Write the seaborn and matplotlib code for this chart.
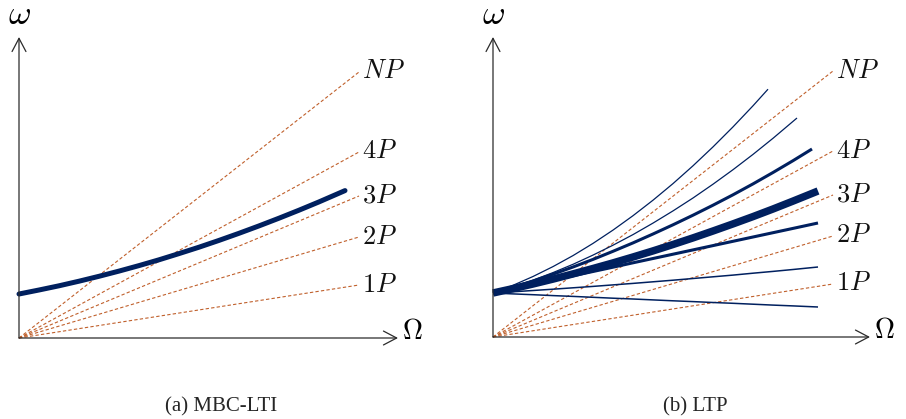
import matplotlib
matplotlib.use("Agg")
import matplotlib.pyplot as plt
from matplotlib.patches import FancyArrowPatch
import pandas as pd
import seaborn as sns

sns.set_theme(style="white")
plt.rcParams["mathtext.fontset"] = "cm"
plt.rcParams["font.family"] = ["Liberation Serif", "DejaVu Serif"]

NAVY = "#00205f"
RUST = "#c0602c"
AXIS = "#2b2b2b"

# harmonic rays k*P leaving the origin
ray_labels = ["$1P$", "$2P$", "$3P$", "$4P$", "$NP$"]
ray_end_x = 340
ray_end_y = [53, 101, 142, 186, 266]

# (a) MBC-LTI: a single frequency curve
lti_x = [0, 20, 40, 60, 80, 100, 120, 140, 160, 180, 200, 220, 240, 260,
         280, 300, 326]
lti_y = [44, 48.0, 52.2, 56.8, 61.7, 66.9, 72.4, 78.2, 84.4, 90.8, 97.6,
         104.7, 112.1, 119.8, 127.8, 136.1, 147.4]

# (b) LTP: fan of harmonic branches, top to bottom
ltp_names = ["h1", "h2", "h3", "h4", "h5", "h6", "h7"]
grid = [0, 20, 40, 60, 80, 100, 120, 140, 160, 180, 200, 220, 240, 260, 280, 300]
ltp_x = {
    "h1": grid[:14] + [275],
    "h2": grid[:15] + [304],
    "h3": grid + [319],
    "h4": grid + [325],
    "h5": grid + [325],
    "h6": grid + [325],
    "h7": grid + [325],
}
ltp_y = {
    "h1": [44, 51.7, 60.5, 70.4, 81.4, 93.6, 106.9, 121.3, 136.8, 153.4,
           171.2, 190.1, 210.1, 231.2, 247.8],
    "h2": [44, 50.0, 56.8, 64.4, 72.7, 81.9, 91.8, 102.4, 113.9, 126.1,
           139.0, 152.8, 167.3, 182.6, 198.7, 219.0],
    "h3": [44, 49.8, 56.0, 62.8, 70.0, 77.6, 85.7, 94.1, 103.0, 112.2,
           121.8, 131.8, 142.2, 153.1, 164.5, 176.3, 188.0],
    "h4": [44, 48.4, 53.0, 57.9, 63.1, 68.5, 74.1, 80.0, 86.1, 92.5,
           99.1, 106.0, 113.1, 120.4, 128.0, 135.9, 146.0],
    "h5": [44, 48.3, 52.6, 56.9, 61.2, 65.5, 69.8, 74.2, 78.5, 82.8,
           87.1, 91.4, 95.7, 100.0, 104.3, 108.6, 114.0],
    "h6": [44, 45.2, 46.5, 47.8, 49.2, 50.6, 52.1, 53.6, 55.2, 56.8,
           58.5, 60.2, 61.9, 63.8, 65.6, 67.5, 70.0],
    "h7": [44, 43.1, 42.3, 41.4, 40.6, 39.7, 38.8, 38.0, 37.1, 36.2,
           35.4, 34.5, 33.7, 32.8, 31.9, 31.1, 30.0],
}
ltp_width = {"h1": 0.9, "h2": 0.9, "h3": 2.2, "h4": 5.4, "h5": 2.2,
             "h6": 1.1, "h7": 1.1}

captions = ["(a) MBC-LTI", "(b) LTP"]


def draw_frame(ax, x_tip, y_tip):
    for tip in [(x_tip, 0), (0, y_tip)]:
        ax.add_patch(FancyArrowPatch(
            (0, 0), tip, arrowstyle="->,head_length=0.95,head_width=0.5",
            mutation_scale=10, lw=0.9, color=AXIS, shrinkA=0, shrinkB=0,
            zorder=3))
    ax.text(x_tip + 14, 6, r"$\Omega$", fontsize=20, color="black",
            ha="center", va="center")
    ax.text(1, 322, r"$\omega$", fontsize=25, color="black",
            ha="center", va="center")


def draw_rays(ax):
    for lab, ye in zip(ray_labels, ray_end_y):
        ax.plot([0, ray_end_x], [0, ye], color=RUST, lw=0.8,
                linestyle=(0, (3, 2)), zorder=1)
        ax.text(ray_end_x + 3, ye, lab, fontsize=19, color="#111111",
                ha="left", va="center")


fig = plt.figure(figsize=(9.06, 4.19), dpi=100)

# panel (a)
ax1 = fig.add_axes([0, 0, 0.5, 1])
ax1.set_xlim(-19, 434)
ax1.set_ylim(-81, 338)
ax1.axis("off")
draw_rays(ax1)
df_lti = pd.DataFrame({"Omega": lti_x, "omega": lti_y})
sns.lineplot(data=df_lti, x="Omega", y="omega", ax=ax1, color=NAVY,
             linewidth=3.6, sort=False, estimator=None, zorder=2)
draw_frame(ax1, 379, 301)
ax1.text(202, -69, captions[0], fontsize=15, ha="center", va="center")

# panel (b)
ax2 = fig.add_axes([0.5, 0, 0.5, 1])
ax2.set_xlim(-40, 413)
ax2.set_ylim(-82, 337)
ax2.axis("off")
draw_rays(ax2)
for name in ltp_names:
    df = pd.DataFrame({"Omega": ltp_x[name], "omega": ltp_y[name]})
    sns.lineplot(data=df, x="Omega", y="omega", ax=ax2, color=NAVY,
                 linewidth=ltp_width[name], sort=False, estimator=None,
                 zorder=2, solid_capstyle="butt")
draw_frame(ax2, 377, 300)
ax2.text(202, -70, captions[1], fontsize=15, ha="center", va="center")

for ax in (ax1, ax2):
    ax.set_xlabel("")
    ax.set_ylabel("")

fig.savefig("out.png", dpi=100)
